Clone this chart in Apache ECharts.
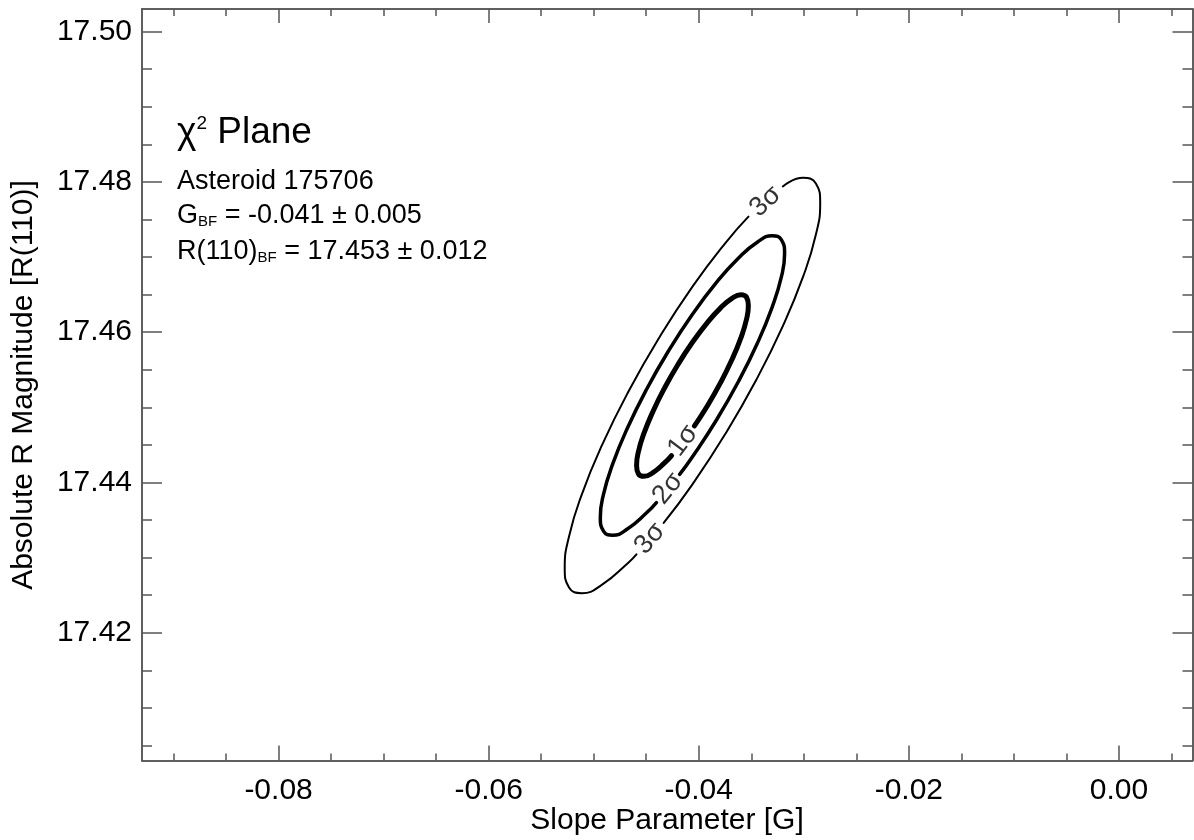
<!DOCTYPE html>
<html><head><meta charset="utf-8">
<script src="https://cdn.jsdelivr.net/npm/echarts@6/dist/echarts.min.js"></script>
<style>html,body{margin:0;padding:0;background:#fff}#c{width:1194px;height:840px}</style>
</head><body><div id="c"></div>
<script>
// ---- data ----
const xRange = [-0.093, 0.007];
const yRange = [17.403, 17.503];
const xMajorTicks = [-0.08, -0.06, -0.04, -0.02, 0.00];
const xMinorTicks = [-0.09, -0.085, -0.075, -0.07, -0.065, -0.055, -0.05, -0.045, -0.035, -0.03, -0.025, -0.015, -0.01, -0.005, 0.005];
const yMajorTicks = [17.42, 17.44, 17.46, 17.48, 17.50];
const yMinorTicks = [17.405, 17.41, 17.415, 17.425, 17.43, 17.435, 17.445, 17.45, 17.455, 17.465, 17.47, 17.475, 17.485, 17.49, 17.495];

// 3-sigma contour, right/top part (between the two labels)
const sigma3Right = [[-0.04334,17.43462],[-0.0406,17.43975],[-0.03745,17.44650],[-0.03452,17.45367],[-0.03200,17.46080],[-0.03007,17.46738],[-0.02885,17.47298],[-0.02844,17.47721],[-0.02885,17.47979],[-0.03007,17.48053],[-0.03200,17.47939]];
// 3-sigma contour, left/bottom part
const sigma3Left = [[-0.03527,17.47537],[-0.03745,17.47189],[-0.0406,17.46605],[-0.04375,17.45930],[-0.04668,17.45213],[-0.04920,17.44500],[-0.05113,17.43842],[-0.05235,17.43282],[-0.05276,17.42859],[-0.05235,17.42601],[-0.05113,17.42527],[-0.04920,17.42641],[-0.04668,17.42936],[-0.04593,17.43043]];
// 2-sigma contour
const sigma2 = [[-0.04182,17.44107],[-0.0406,17.44342],[-0.03833,17.44828],[-0.03621,17.45346],[-0.03440,17.45859],[-0.03301,17.46334],[-0.03213,17.46738],[-0.03183,17.47043],[-0.03213,17.47229],[-0.03301,17.47282],[-0.03440,17.47200],[-0.03621,17.46987],[-0.03833,17.46659],[-0.0406,17.46238],[-0.04287,17.45752],[-0.04499,17.45234],[-0.04680,17.44721],[-0.04819,17.44246],[-0.04907,17.43842],[-0.04937,17.43537],[-0.04907,17.43351],[-0.04819,17.43298],[-0.04680,17.43380],[-0.04499,17.43593],[-0.04403,17.43733]];
// 1-sigma contour
const sigma1 = [[-0.04041,17.44752],[-0.03922,17.45010],[-0.03794,17.45324],[-0.03684,17.45635],[-0.03599,17.45924],[-0.03546,17.46168],[-0.03528,17.46353],[-0.03546,17.46466],[-0.03599,17.46499],[-0.03684,17.46449],[-0.03794,17.46320],[-0.03922,17.46121],[-0.0406,17.45865],[-0.04198,17.45570],[-0.04326,17.45256],[-0.04436,17.44945],[-0.04521,17.44656],[-0.04574,17.44412],[-0.04592,17.44227],[-0.04574,17.44114],[-0.04521,17.44081],[-0.04436,17.44131],[-0.04326,17.44260],[-0.04259,17.44358]];

const contourLabelText = ['3σ', '3σ', '2σ', '1σ'];
const contourLabelPos = [[-0.03364,17.47738],[-0.04464,17.43253],[-0.04293,17.43920],[-0.04150,17.44555]];

// ---- styling ----
const FONT = '"Liberation Sans", Arial, Helvetica, sans-serif';
const AX = '#555555';
const labelRot = [42, 49, 51, 53];

function xAx(pos, ticks, len, labels) {
  return {
    type: 'value', position: pos, min: xRange[0], max: xRange[1], gridIndex: 0,
    axisLine: { show: true, onZero: false, lineStyle: { color: AX, width: 1.5 } },
    axisTick: { show: true, inside: true, length: len, customValues: ticks, lineStyle: { color: AX, width: 1.5 } },
    axisLabel: { show: labels, customValues: ticks, margin: 15, formatter: v => v.toFixed(2),
      color: '#000', fontSize: 30, fontFamily: FONT },
    splitLine: { show: false }, minorTick: { show: false }
  };
}
function yAx(pos, ticks, len, labels) {
  return {
    type: 'value', position: pos, min: yRange[0], max: yRange[1], gridIndex: 0,
    axisLine: { show: true, onZero: false, lineStyle: { color: AX, width: 1.5 } },
    axisTick: { show: true, inside: true, length: len, customValues: ticks, lineStyle: { color: AX, width: 1.5 } },
    axisLabel: { show: labels, customValues: ticks, margin: 10, formatter: v => v.toFixed(2),
      color: '#000', fontSize: 30, fontFamily: FONT },
    splitLine: { show: false }, minorTick: { show: false }
  };
}

const lineS = (data, w) => ({
  type: 'line', data, xAxisIndex: 0, yAxisIndex: 0, smooth: true, symbol: 'none',
  lineStyle: { color: '#000', width: w, cap: 'round' }, silent: true, z: 3
});

const txt = (y, text, rich) => ({
  type: 'text', x: 177, y,
  style: { text, rich, align: 'left', verticalAlign: 'middle', fill: '#000', font: '27px ' + FONT }
});
const base = { fontSize: 27, fontFamily: FONT, fill: '#000' };
const sub = { fontSize: 15, fontFamily: FONT, fill: '#000', verticalAlign: 'bottom', padding: [10, 0, 0, 0] };

const option = {
  animation: false,
  backgroundColor: '#fff',
  grid: { left: 142, right: 1.5, top: 9, bottom: 79.5, containLabel: false },
  xAxis: [ xAx('bottom', xMajorTicks, 15, true), xAx('bottom', xMinorTicks, 7, false),
           xAx('top', xMajorTicks, 14, false), xAx('top', xMinorTicks, 7, false) ],
  yAxis: [ yAx('left', yMajorTicks, 20, true), yAx('left', yMinorTicks, 10, false),
           yAx('right', yMajorTicks, 20, false), yAx('right', yMinorTicks, 10, false) ],
  series: [
    lineS(sigma3Right, 2), lineS(sigma3Left, 2), lineS(sigma2, 3.5), lineS(sigma1, 5),
    {
      type: 'scatter', xAxisIndex: 0, yAxisIndex: 0, symbolSize: 0, silent: true, z: 4,
      data: contourLabelPos.map((p, i) => ({ name: contourLabelText[i], value: p,
        label: { rotate: labelRot[i] } })),
      label: { show: true, position: 'inside', formatter: p => p.name, color: '#000',
        fontSize: 27, fontFamily: FONT }
    }
  ],
  graphic: [
    { type: 'text', x: 177, y: 133,
      style: { text: '{a|χ}{s|2}{a| Plane}', align: 'left', verticalAlign: 'middle',
        rich: { a: { fontSize: 37, fontFamily: FONT, fill: '#000' },
                s: { fontSize: 19, fontFamily: FONT, fill: '#000', verticalAlign: 'top' } } } },
    txt(182, '{a|Asteroid 175706}', { a: base }),
    txt(216, '{a|G}{b|BF}{a| = -0.041 ± 0.005}', { a: base, b: sub }),
    txt(252, '{a|R(110)}{b|BF}{a| = 17.453 ± 0.012}', { a: base, b: sub }),
    { type: 'text', x: 667, y: 821,
      style: { text: 'Slope Parameter [G]', align: 'center', verticalAlign: 'middle',
        fill: '#000', font: '30px ' + FONT } },
    { type: 'text', x: 24, y: 385, rotation: Math.PI / 2,
      style: { text: 'Absolute R Magnitude [R(110)]', align: 'center', verticalAlign: 'middle',
        fill: '#000', font: '30px ' + FONT } }
  ]
};

const chart = echarts.init(document.getElementById('c'), null, { renderer: 'canvas' });
chart.setOption(option);
</script>
</body></html>
